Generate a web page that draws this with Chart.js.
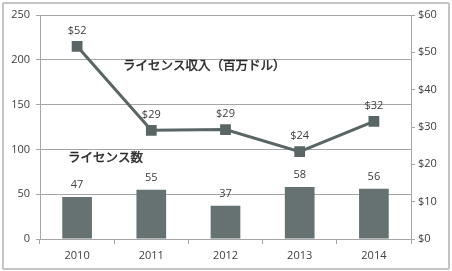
<!DOCTYPE html>
<html><head><meta charset="utf-8">
<script src="https://cdn.jsdelivr.net/npm/chart.js@4/dist/chart.umd.min.js"></script>
<style>
html,body{margin:0;padding:0;background:#fff;}
#wrap{position:relative;width:452px;height:271px;}
#frame{position:absolute;left:2px;top:2px;width:444px;height:264px;border:2px solid #c4c4c4;border-radius:2px;}
canvas{position:absolute;left:0;top:0;}
</style></head>
<body>
<div id="wrap"><div id="frame"></div><canvas id="c" width="452" height="271"></canvas></div>
<script>
const years = ['2010','2011','2012','2013','2014'];
const licenseCount = [47, 55, 37, 58, 56];
const licenseRevenue = [51.6, 29.1, 29.3, 23.4, 31.5];
const revenueLabels = ['$52','$29','$29','$24','$32'];
const countTitle = 'ライセンス数';
const revenueTitle = 'ライセンス収入（百万ドル）';

const FONT = "'Open Sans','Noto Sans CJK JP',sans-serif";
const JFONT = "'Noto Sans CJK JP',sans-serif";
const LINE = '#5a6565';
const BAR = '#667171';

const labelPlugin = {
  id: 'labels',
  afterDatasetsDraw(chart) {
    const ctx = chart.ctx;
    ctx.save();
    ctx.font = "11px " + FONT;
    ctx.fillStyle = '#404040';
    ctx.textAlign = 'center';
    ctx.textBaseline = 'middle';
    const barMeta = chart.getDatasetMeta(1);
    barMeta.data.forEach((el, i) => {
      ctx.fillText(String(licenseCount[i]), el.x, el.y - 12);
    });
    const lineMeta = chart.getDatasetMeta(0);
    lineMeta.data.forEach((el, i) => {
      ctx.fillText(revenueLabels[i], el.x, el.y - 16);
    });
    const ca = chart.chartArea;
    const ys = chart.scales.y;
    ctx.font = "12.5px " + JFONT;
    ctx.fillStyle = '#2a2a2a';
    ctx.strokeStyle = '#2a2a2a';
    ctx.lineWidth = 0.45;
    ctx.textAlign = 'left';
    const y1 = ys.getPixelForValue(194), y2 = ys.getPixelForValue(91);
    ctx.fillText(revenueTitle, ca.left + 83, y1);
    ctx.strokeText(revenueTitle, ca.left + 83, y1);
    ctx.fillText(countTitle, ca.left + 28, y2);
    ctx.strokeText(countTitle, ca.left + 28, y2);
    ctx.restore();
  }
};

new Chart(document.getElementById('c'), {
  data: {
    labels: years,
    datasets: [
      {
        type: 'line', data: licenseRevenue, yAxisID: 'y1',
        borderColor: LINE, backgroundColor: LINE, borderWidth: 3,
        pointStyle: 'rect', pointRadius: 5.5, pointHoverRadius: 5.5,
        pointBackgroundColor: LINE, pointBorderColor: LINE, order: 0
      },
      {
        type: 'bar', data: licenseCount, yAxisID: 'y',
        backgroundColor: BAR, categoryPercentage: 0.8, barPercentage: 0.5, order: 1
      }
    ]
  },
  options: {
    responsive: false, animation: false,
    layout: { padding: { top: 15, left: 0, right: 0, bottom: 0 } },
    plugins: { legend: { display: false }, tooltip: { enabled: false } },
    scales: {
      x: {
        offset: true,
        grid: { offset: true, drawOnChartArea: false, drawTicks: true, tickLength: 5, color: '#a6a6a6' },
        border: { color: '#a6a6a6', width: 1 },
        ticks: { color: '#404040', font: { family: FONT, size: 11 }, padding: 5 },
        afterFit(s) { s.height = 32; }
      },
      y: {
        position: 'left', min: 0, max: 250,
        ticks: { stepSize: 50, color: '#404040', font: { family: FONT, size: 11 }, padding: 6 },
        grid: { color: '#a6a6a6', tickLength: 4 },
        border: { color: '#a6a6a6' },
        afterFit(s) { s.width = 40; }
      },
      y1: {
        position: 'right', min: 0, max: 60,
        ticks: { stepSize: 10, color: '#404040', font: { family: FONT, size: 11 }, padding: 3,
                 callback: v => '$' + v },
        grid: { drawOnChartArea: false, color: '#a6a6a6', tickLength: 4 },
        border: { color: '#a6a6a6' },
        afterFit(s) { s.width = 41; }
      }
    }
  },
  plugins: [labelPlugin]
});
</script>
</body></html>
